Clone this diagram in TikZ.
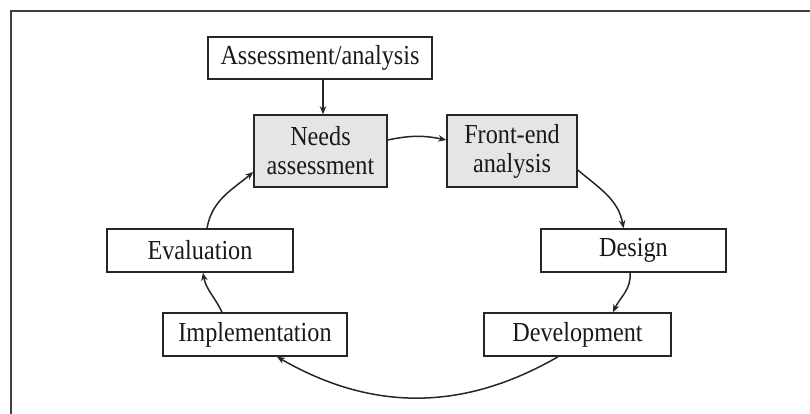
\documentclass[tikz,border=0pt]{standalone}
\usepackage{fontspec}
\setmainfont[FakeStretch=0.88]{Liberation Serif}
\usetikzlibrary{arrows.meta}
\begin{document}
\begin{tikzpicture}[x=1pt,y=1pt,
  box/.style={draw=black!85, line width=1.5pt, rectangle, inner sep=0pt,
    font=\fontsize{27.5}{29}\selectfont, align=center, text=black!90},
  shaded/.style={box, fill=black!10},
  conn/.style={draw=black!85, line width=1.5pt, -{Stealth[length=8pt,width=6.5pt]}}]
\useasboundingbox (0,0) rectangle (810,-413);
\draw[line width=2.2pt, draw=black!75] (11,-440) -- (11,-11) -- (830,-11);

\node[box, minimum width=224pt, minimum height=42pt] (A) at (320,-58) {Assessment/analysis};
\node[shaded, minimum width=133pt, minimum height=72pt] (N) at (320.5,-151) {Needs\\assessment};
\node[shaded, minimum width=130pt, minimum height=72pt] (F) at (512,-151) {Front-end\\analysis};
\node[box, minimum width=186pt, minimum height=43pt] (E) at (200,-250.5) {Evaluation};
\node[box, minimum width=185pt, minimum height=43pt] (D) at (633.5,-250.5) {Design};
\node[box, minimum width=184pt, minimum height=43pt] (I) at (255,-334.5) {Implementation};
\node[box, minimum width=187pt, minimum height=43pt] (V) at (577.5,-334.5) {Development};

\draw[conn] ([xshift=3pt]A.south) -- ([xshift=2.5pt]N.north);
\draw[conn] ([yshift=11pt]N.east) to[bend left=12] ([yshift=11pt]F.west);
\draw[conn] ([yshift=-19pt]F.east) to[out=-40,in=100] ([xshift=-10pt]D.north);
\draw[conn] ([xshift=-3.5pt]D.south) to[out=-85,in=65] ([xshift=35.5pt]V.north);
\draw[conn] ([xshift=-19.5pt]V.south) to[out=-150,in=-30] ([xshift=22pt]I.south);
\draw[conn] ([xshift=-33pt]I.north) to[out=115,in=-80] ([xshift=3pt]E.south);
\draw[conn] ([xshift=7pt]E.north) to[out=80,in=-140] ([yshift=-21pt]N.west);
\end{tikzpicture}
\end{document}
